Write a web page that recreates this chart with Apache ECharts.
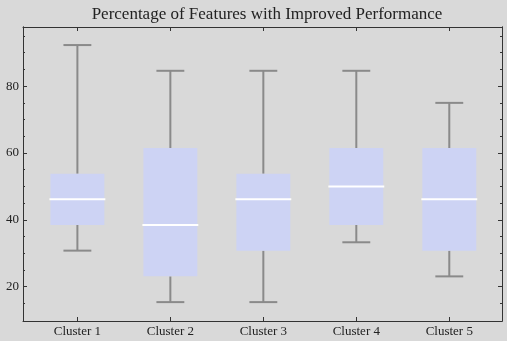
<!DOCTYPE html>
<html>
<head>
<meta charset="utf-8">
<script src="https://cdn.jsdelivr.net/npm/echarts@6/dist/echarts.min.js"></script>
<style>
  html, body { margin: 0; padding: 0; background: #d9d9d9; }
  #chart { width: 507px; height: 341px; }
</style>
</head>
<body>
<div id="chart"></div>
<script>
// cluster names and five-number summaries (percent)
const clusters = ['Cluster 1', 'Cluster 2', 'Cluster 3', 'Cluster 4', 'Cluster 5']
const lowWhisker = [30.8, 15.4, 15.4, 33.3, 23.1]
const q1 = [38.5, 23.1, 30.8, 38.5, 30.8]
const median = [46.2, 38.5, 46.2, 50.0, 46.2]
const q3 = [53.8, 61.5, 53.8, 61.5, 61.5]
const highWhisker = [92.3, 84.6, 84.6, 84.6, 75.0]
const yMajorTicks = [20, 40, 60, 80]
const yMinorTicks = [15, 25, 30, 35, 45, 50, 55, 65, 70, 75, 85, 90, 95]
const xTicks = [1, 2, 3, 4, 5]

const boxData = clusters.map((c, i) => [i + 1, lowWhisker[i], q1[i], median[i], q3[i], highWhisker[i]])

const font = '"Liberation Serif", "DejaVu Serif", serif'
const lineCol = '#333'

const yRange = { min: 9.75, max: 97.7 }
const xRange = { min: 0.415, max: 5.567 }

function yAxisDef (position, ticks, len, labels) {
  return {
    type: 'value', position: position, ...yRange,
    splitLine: { show: false },
    axisLine: { show: true, lineStyle: { color: lineCol, width: 1 } },
    axisTick: { show: true, inside: true, length: len, customValues: ticks, lineStyle: { color: lineCol } },
    axisLabel: labels
      ? { show: true, customValues: ticks, color: '#222', fontFamily: font, fontSize: 13, margin: 4 }
      : { show: false }
  }
}

function renderBox (params, api) {
  const x = api.value(0)
  const pLow = api.coord([x, api.value(1)])
  const pQ1 = api.coord([x, api.value(2)])
  const pMed = api.coord([x, api.value(3)])
  const pQ3 = api.coord([x, api.value(4)])
  const pHigh = api.coord([x, api.value(5)])
  const unit = api.size([1, 0])[0]
  const boxW = unit * 0.58
  const capW = unit * 0.3
  const cx = pMed[0]
  const whisk = { stroke: '#8a8a8a', lineWidth: 2 }
  return {
    type: 'group',
    children: [
      { type: 'line', shape: { x1: cx, y1: pQ3[1], x2: cx, y2: pHigh[1] }, style: whisk },
      { type: 'line', shape: { x1: cx - capW / 2, y1: pHigh[1], x2: cx + capW / 2, y2: pHigh[1] }, style: whisk },
      { type: 'line', shape: { x1: cx, y1: pQ1[1], x2: cx, y2: pLow[1] }, style: whisk },
      { type: 'line', shape: { x1: cx - capW / 2, y1: pLow[1], x2: cx + capW / 2, y2: pLow[1] }, style: whisk },
      { type: 'rect', shape: { x: cx - boxW / 2, y: pQ3[1], width: boxW, height: pQ1[1] - pQ3[1] }, style: { fill: '#cdd3f4' } },
      { type: 'line', shape: { x1: cx - boxW / 2 - 1, y1: pMed[1], x2: cx + boxW / 2 + 1, y2: pMed[1] }, style: { stroke: '#ffffff', lineWidth: 2 } }
    ]
  }
}

const chart = echarts.init(document.getElementById('chart'))
chart.setOption({
  backgroundColor: '#d9d9d9',
  animation: false,
  title: {
    text: 'Percentage of Features with Improved Performance',
    left: 262, top: 1, textAlign: 'center',
    textStyle: { fontFamily: font, fontSize: 17, fontWeight: 'normal', color: '#222' }
  },
  grid: { left: 23, right: 5, top: 27, bottom: 20 },
  xAxis: [
    {
      type: 'value', position: 'bottom', ...xRange,
      splitLine: { show: false },
      axisLine: { show: true, lineStyle: { color: lineCol } },
      axisTick: { show: true, inside: true, length: 4, customValues: xTicks, lineStyle: { color: lineCol } },
      axisLabel: {
        show: true, customValues: xTicks, color: '#222', fontFamily: font, fontSize: 13, margin: 4,
        formatter: v => clusters[Math.round(v) - 1]
      }
    },
    {
      type: 'value', position: 'top', ...xRange,
      splitLine: { show: false },
      axisLine: { show: true, lineStyle: { color: lineCol } },
      axisTick: { show: true, inside: true, length: 4, customValues: xTicks, lineStyle: { color: lineCol } },
      axisLabel: { show: false }
    }
  ],
  yAxis: [
    yAxisDef('left', yMajorTicks, 4, true),
    yAxisDef('left', yMinorTicks, 2, false),
    yAxisDef('right', yMajorTicks, 4, false),
    yAxisDef('right', yMinorTicks, 2, false)
  ],
  series: [{
    type: 'custom',
    xAxisIndex: 0,
    yAxisIndex: 0,
    renderItem: renderBox,
    encode: { x: 0, y: [1, 2, 3, 4, 5] },
    data: boxData
  }]
})
</script>
</body>
</html>
